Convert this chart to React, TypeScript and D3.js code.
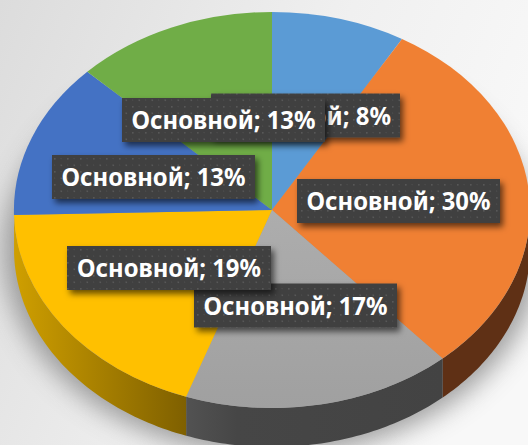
import React from "react";
import * as d3 from "d3";

const categories = ["A", "B", "C", "D", "E", "F"];
const seriesName = "Основной";
const values = [8.4, 30.1, 16.9, 19.2, 12.7, 12.7];
const percentLabels = ["8%", "30%", "17%", "19%", "13%", "13%"];
const topColors = ["#5b9bd5", "#f08033", "#a5a5a5", "#ffc000", "#4472c4", "#70ad47"];
const sideDark = ["#2e4e6b", "#5f3015", "#444444", "#7f6000", "#cf9f00", "#385723"];

const W = 528, H = 445;
const cx = 272, cy = 210, rx = 258, ry = 198, depth = 39;

// label boxes: centre of each box, in chart order; drawing order separately
const labelBoxes = [
  { x: 305.5, y: 115.5, w: 189, tl: 171 },
  { x: 398.5, y: 201, w: 203, tl: 184 },
  { x: 295.5, y: 305.5, w: 203, tl: 184 },
  { x: 169, y: 268, w: 204, tl: 184 },
  { x: 153.5, y: 177, w: 203, tl: 184 },
  { x: 223.5, y: 120, w: 203, tl: 184 },
];
const labelOrder = [0, 1, 2, 3, 4, 5];
const boxH = 44;

const px = (a: number) => cx + rx * Math.sin(a);
const py = (a: number) => cy - ry * Math.cos(a);

function sidePath(a0: number, a1: number) {
  const s = Math.max(a0, Math.PI / 2), e = Math.min(a1, (3 * Math.PI) / 2);
  if (e <= s) return null;
  const ts = d3.range(0, 61).map((i) => s + ((e - s) * i) / 60);
  const pts: [number, number][] = [
    ...ts.map((t) => [px(t), py(t)] as [number, number]),
    ...ts.slice().reverse().map((t) => [px(t), py(t) + depth] as [number, number]),
  ];
  return d3.line()(pts) + "Z";
}

export default function App() {
  const arcs = d3.pie<number>().sort(null).value((d) => d)(values);
  const arcGen = d3.arc<d3.PieArcDatum<number>>().innerRadius(0).outerRadius(1);
  return (
    <svg width={W} height={H} viewBox={`0 0 ${W} ${H}`} style={{ position: "fixed", left: 0, top: 0 }}>
      <defs>
        <pattern id="dots" width="13" height="13" patternUnits="userSpaceOnUse">
          <rect width="13" height="13" fill="#404040" />
          <rect x="2" y="2" width="1.6" height="1.6" fill="#585858" />
          <rect x="8.5" y="8.5" width="1.6" height="1.6" fill="#585858" />
          <rect x="8.5" y="2" width="1.2" height="1.2" fill="#4c4c4c" />
          <rect x="2" y="8.5" width="1.2" height="1.2" fill="#4c4c4c" />
        </pattern>
        <linearGradient id="bg" x1="0" y1="0" x2="1" y2="0.35">
          <stop offset="0" stopColor="#dcdcdc" />
          <stop offset="0.6" stopColor="#f0f0f0" />
          <stop offset="1" stopColor="#f8f8f8" />
        </linearGradient>
        <linearGradient id="sideYellow" gradientUnits="userSpaceOnUse" x1="14" x2="186" y1="0" y2="0">
          <stop offset="0" stopColor="#cf9f00" />
          <stop offset="1" stopColor="#7f6000" />
        </linearGradient>
        <linearGradient id="sideGray" gradientUnits="userSpaceOnUse" x1="186" x2="445" y1="0" y2="0">
          <stop offset="0" stopColor="#525252" />
          <stop offset="0.2" stopColor="#464646" />
          <stop offset="1" stopColor="#434343" />
        </linearGradient>
        <linearGradient id="topGray" x1="0" y1="0" x2="0" y2="1">
          <stop offset="0" stopColor="#adadad" />
          <stop offset="1" stopColor="#a0a0a0" />
        </linearGradient>
        <filter id="blur" x="-20%" y="-20%" width="140%" height="140%">
          <feGaussianBlur stdDeviation="13" />
        </filter>
        <filter id="boxShadow" x="-10%" y="-20%" width="125%" height="160%">
          <feDropShadow dx="3" dy="4" stdDeviation="3" floodColor="#000" floodOpacity="0.6" />
        </filter>
      </defs>
      <rect width={W} height={H} fill="url(#bg)" />
      <ellipse cx={cx} cy={cy + depth + 2} rx={rx + 10} ry={ry + 6} fill="#808080" opacity={0.75} filter="url(#blur)" />
      {arcs.map((a, i) => {
        const d = sidePath(a.startAngle, a.endAngle);
        if (!d) return null;
        const fill = i === 3 ? "url(#sideYellow)" : i === 2 ? "url(#sideGray)" : sideDark[i];
        return <path key={categories[i]} d={d} fill={fill} />;
      })}
      <g transform={`translate(${cx},${cy}) scale(${rx},${ry})`}>
        {arcs.map((a, i) => (
          <path key={categories[i]} d={arcGen(a) as string} fill={i === 2 ? "url(#topGray)" : topColors[i]} />
        ))}
      </g>
      {labelOrder.map((i) => {
        const b = labelBoxes[i];
        return (
          <g key={categories[i]}>
            <rect x={b.x - b.w / 2} y={b.y - boxH / 2} width={b.w} height={boxH} fill="url(#dots)" filter="url(#boxShadow)" />
            <text
              x={b.x}
              y={b.y + 9}
              textAnchor="middle"
              fill="#fff"
              fontFamily="'Noto Sans', sans-serif"
              fontWeight={700}
              fontSize={25}
              textLength={b.tl}
              lengthAdjust="spacingAndGlyphs"
            >
              {`${seriesName}; ${percentLabels[i]}`}
            </text>
          </g>
        );
      })}
    </svg>
  );
}
